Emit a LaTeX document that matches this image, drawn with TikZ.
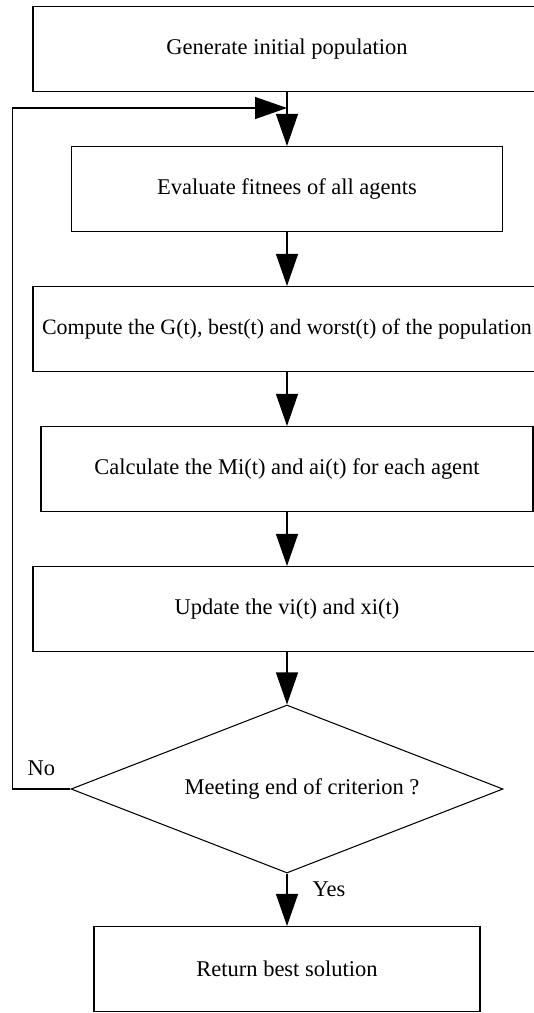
\documentclass[tikz,border=0pt]{standalone}
\usepackage{fontspec}
\setmainfont{Liberation Serif}
\usetikzlibrary{positioning,shapes.geometric,arrows.meta}

\tikzset{
  box/.style={draw,minimum height=1.7cm,inner sep=0pt},
  test/.style={draw,diamond,aspect=2.57,minimum width=8.64cm,minimum height=3.36cm,inner sep=0pt},
  >={Triangle[length=0.64cm,width=0.44cm]},
}

\begin{document}
\begin{tikzpicture}[node distance=2.8cm,line width=0.6pt,font=\fontsize{12.8}{15}\selectfont]
      \clip (0,0) rectangle (10.68,-20.26);
      \node [box,minimum width=10.16cm] (1) at (5.74,-0.98) {Generate initial population};
      \node [box,minimum width=8.62cm,below of=1] (2) {Evaluate fitnees of all agents};
      \node [box,minimum width=10.16cm,below of=2,font=\fontsize{12.5}{15}\selectfont] (3) {Compute the G(t), best(t) and worst(t) of the population};
      \node [box,minimum width=9.84cm,below of=3] (4) {Calculate the Mi(t) and ai(t) for each agent};
      \node [box,minimum width=10.16cm,below of=4] (5) {Update the vi(t) and xi(t)};
      \node [test,below of=5,yshift=-0.8cm] (6) {\hspace*{0.6cm}Meeting end of criterion ?};
      \node [box,minimum width=7.72cm,below of=6,yshift=-0.8cm] (7) {Return best solution};
      \coordinate (m) at (5.74,-2.16);

      \draw[->] (1) -- (2);
      \draw[->] (2) -- (3);
      \draw[->] (3) -- (4);
      \draw[->] (4) -- (5);
      \draw[->] (5) -- (6);
      \draw[->] (6) -- node[pos=0.3,right=11pt] {Yes} (7);
      \draw[->] (6.west) -- node[above=4pt] {No} ++(-1.16,0) |- (m);
    \end{tikzpicture}
\end{document}
